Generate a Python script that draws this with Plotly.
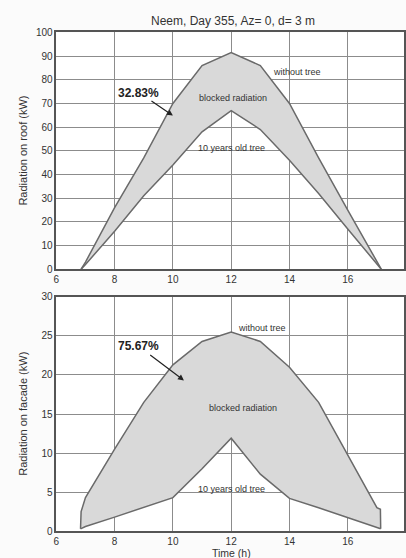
import plotly.graph_objects as go

# ---- data ----
roof_hours_out = [6.85, 7, 8, 9, 10, 11, 12, 13, 14, 15, 16, 17, 17.15]
roof_without_tree = [0, 3, 26, 47, 70, 86, 91.5, 86, 70, 47, 25, 3, 0]
roof_hours_in = [6.85, 7, 8, 9, 10, 11, 12, 13, 14, 15, 16, 17, 17.15]
roof_tree_10y = [0, 2, 16, 31, 44, 58, 67, 59, 46, 32, 17, 2, 0]

fac_hours_out = [6.83, 6.85, 7, 8, 9, 10, 11, 12, 13, 14, 15, 16, 17, 17.12, 17.13]
fac_without_tree = [0.3, 2.5, 4.3, 10.5, 16.5, 21.3, 24.3, 25.5, 24.3, 21, 16.5, 9.8, 3, 2.8, 0.3]
fac_hours_in = [6.83, 7, 8, 9, 10, 11, 12, 13, 14, 15, 16, 17, 17.13]
fac_tree_10y = [0.3, 0.6, 1.8, 3, 4.3, 8, 11.9, 7.3, 4.2, 3, 1.7, 0.4, 0.3]

x_ticks = [6, 8, 10, 12, 14, 16, 18]
roof_pct = "32.83%"
facade_pct = "75.67%"
title_text = "Neem, Day 355, Az= 0, d= 3 m"

W, H = 406, 558
FONT = "Liberation Sans, Arial, sans-serif"
LINE = "#6a6a6a"
FILL = "#d9d9d9"
TXT = "#333333"

fig = go.Figure()

# top panel
fig.add_trace(go.Scatter(x=roof_hours_in, y=roof_tree_10y, mode="lines",
                         line=dict(color=LINE, width=1.5), xaxis="x", yaxis="y",
                         showlegend=False, hoverinfo="skip"))
fig.add_trace(go.Scatter(x=roof_hours_out, y=roof_without_tree, mode="lines",
                         line=dict(color=LINE, width=1.5), fill="tonexty", fillcolor=FILL,
                         xaxis="x", yaxis="y", showlegend=False, hoverinfo="skip"))
# bottom panel
fig.add_trace(go.Scatter(x=fac_hours_in, y=fac_tree_10y, mode="lines",
                         line=dict(color=LINE, width=1.5), xaxis="x2", yaxis="y2",
                         showlegend=False, hoverinfo="skip"))
fig.add_trace(go.Scatter(x=fac_hours_out, y=fac_without_tree, mode="lines",
                         line=dict(color=LINE, width=1.5), fill="tonexty", fillcolor=FILL,
                         xaxis="x2", yaxis="y2", showlegend=False, hoverinfo="skip"))

left = 54 / W
axis_common = dict(showgrid=True, gridcolor="#8c8c8c", gridwidth=1,
                   showline=True, linecolor="#555555", linewidth=1.5, mirror=True,
                   zeroline=False, ticks="", ticklabeloverflow="allow",
                   tickfont=dict(family=FONT, size=10, color=TXT))

top_dom = [1 - 269 / H, 1 - 27 / H]
bot_dom = [1 - 536.7 / H, 1 - 297.3 / H]
x_range = [6, 17.93]

fig.update_layout(
    width=W, height=H,
    margin=dict(l=0, r=0, t=0, b=0),
    paper_bgcolor="#fbfbfb", plot_bgcolor="#ffffff",
    xaxis=dict(domain=[left, 1], range=x_range, tickvals=x_ticks, anchor="y", **axis_common),
    yaxis=dict(domain=top_dom, range=[0, 100], dtick=10, anchor="x", **axis_common),
    xaxis2=dict(domain=[left, 1], range=x_range, tickvals=x_ticks, anchor="y2", **axis_common),
    yaxis2=dict(domain=bot_dom, range=[0, 30], dtick=5, anchor="x2", **axis_common),
)

def paper_ann(text, px, py, size, angle=0):
    return dict(text=text, x=px / W, y=1 - py / H, xref="paper", yref="paper",
                xanchor="center", yanchor="middle", textangle=angle, showarrow=False,
                font=dict(family=FONT, size=size, color=TXT))

anns = [
    paper_ann(title_text, 233, 15, 12),
    paper_ann("Radiation on roof (kW)", 20, 148, 11, -90),
    paper_ann("Radiation on facade (kW)", 20, 417, 11, -90),
    paper_ann("Time (h)", 231, 559, 10.5),
]

small = dict(family=FONT, size=9, color=TXT)
# top panel labels
anns += [
    dict(text="without tree", x=14.25, y=83.2, xref="x", yref="y", showarrow=False, font=small),
    dict(text="blocked radiation", x=12.07, y=72.3, xref="x", yref="y", showarrow=False, font=small),
    dict(text="10 years old tree", x=12.0, y=51.2, xref="x", yref="y", showarrow=False, font=small),
    dict(text="<b>%s</b>" % roof_pct, x=10.0, y=64.9, xref="x", yref="y", ax=-34, ay=-23,
         showarrow=True, arrowhead=2, arrowsize=1, arrowwidth=1.2, arrowcolor="#222",
         font=dict(family=FONT, size=12, color="#222")),
]
# bottom panel labels
anns += [
    dict(text="without tree", x=13.07, y=26.0, xref="x2", yref="y2", showarrow=False, font=small),
    dict(text="blocked radiation", x=12.4, y=15.8, xref="x2", yref="y2", showarrow=False, font=small),
    dict(text="10 years old tree", x=12.0, y=5.4, xref="x2", yref="y2", showarrow=False, font=small),
    dict(text="<b>%s</b>" % facade_pct, x=10.38, y=19.3, xref="x2", yref="y2", ax=-45, ay=-34,
         showarrow=True, arrowhead=2, arrowsize=1, arrowwidth=1.2, arrowcolor="#222",
         font=dict(family=FONT, size=12, color="#222")),
]
fig.update_layout(annotations=anns)

fig.write_html(
    "out.html",
    config={"displayModeBar": False},
    post_script="document.body.style.margin='0';document.body.style.overflow='hidden';",
)
